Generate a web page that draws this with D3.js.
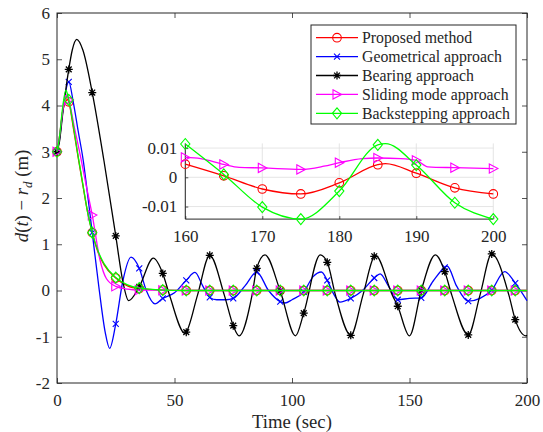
<!DOCTYPE html>
<html><head><meta charset="utf-8">
<script src="https://cdn.jsdelivr.net/npm/d3@7"></script>
<style>
body{margin:0;background:#fff}
svg{display:block}
text{font-family:"Liberation Serif","Times New Roman",serif;fill:#262626}
</style>
</head><body><svg id="c" width="543" height="432"></svg>
<script>
// ---------------- data ----------------
const xTicks = [0, 50, 100, 150, 200];
const yTicks = [-2, -1, 0, 1, 2, 3, 4, 5, 6];
const markerTimes = [0, 5, 15, 25, 35, 45, 55, 65, 75, 85, 95, 105, 115, 125, 135, 145, 155, 165, 175, 185, 195];
const seriesNames = ["Proposed method", "Geometrical approach", "Bearing approach", "Sliding mode approach", "Backstepping approach"];

const proposedT = [0, 1, 2.5, 4.5, 5, 7, 9, 11, 13, 15, 17.5, 20, 25, 30, 35, 45, 55, 65, 75, 85, 95, 105, 115, 125, 135, 145, 155, 165, 175, 185, 195, 200];
const proposedV = [3, 3.3, 3.9, 4.13, 4.08, 3.5, 2.88, 2.28, 1.7, 1.25, 0.82, 0.56, 0.27, 0.1, 0.04, 0.01, 0, 0, 0, 0, 0, 0, 0, 0, 0, 0, 0, 0, 0, 0, 0, 0];

const geometricT = [0, 1, 2.5, 5, 7, 9, 11.2, 13.3, 15, 18, 20.5, 22.4, 25, 28, 31.5, 35, 38, 41.7, 45, 50, 55, 58.7, 62, 65, 68, 72, 75, 80, 85, 90, 95, 97, 100, 105, 109, 112.5, 115, 118, 120.4, 125, 130, 135, 137.5, 141, 145, 150, 155, 160, 165, 166, 170, 175, 180, 185, 190.5, 195, 200];
const geometricV = [3, 3.25, 3.9, 4.51, 4.05, 3.45, 2.8, 1.96, 1.25, 0.0, -0.9, -1.25, -0.72, 0.2, 0.72, 0.48, 0.0, -0.29, -0.17, -0.05, 0.22, 0.39, 0.1, -0.15, -0.2, -0.2, -0.17, 0.1, 0.4, 0.0, -0.24, -0.27, -0.2, -0.03, 0.3, 0.4, 0.22, -0.1, -0.25, -0.17, 0.0, 0.27, 0.36, 0.1, -0.2, -0.17, -0.16, 0.2, 0.5, 0.53, 0.1, -0.23, -0.17, 0.01, 0.41, 0.16, -0.22];

const bearingT = [0, 1, 2.5, 5, 6.5, 8.4, 11, 15, 20, 25, 28, 30.5, 35, 41, 45, 48, 54.5, 55, 59.8, 65, 71.2, 75, 77.5, 83, 85, 88.5, 95, 101.5, 105, 112, 115, 118.5, 125, 130.2, 135, 135.5, 142.7, 145, 150, 155, 161, 165, 168, 175, 180, 185, 192.3, 195, 199.5, 200];
const bearingV = [3, 3.2, 3.85, 4.78, 5.2, 5.43, 5.2, 4.28, 2.8, 1.18, 0.2, -0.22, 0.08, 0.7, 0.37, -0.12, -0.93, -0.9, -0.1, 0.76, -0.1, -0.76, -0.98, -0.1, 0.48, 0.77, -0.01, -0.98, -0.49, 0.77, 0.61, -0.1, -0.97, -0.1, 0.74, 0.76, -0.1, -0.34, -0.98, 0.0, 0.77, 0.41, -0.1, -0.96, -0.1, 0.79, -0.1, -0.63, -0.98, -0.97];

const slidingT = [0, 1, 2.5, 4.1, 5, 7.5, 10, 12.5, 15, 18.3, 21, 25, 30, 35, 45, 55, 65, 75, 85, 95, 105, 115, 125, 135, 145, 155, 165, 175, 185, 195, 200];
const slidingV = [3, 3.3, 3.9, 4.23, 4.12, 3.5, 2.9, 2.25, 1.63, 0.66, 0.26, 0.09, 0.03, 0.01, 0.005, 0, 0, 0, 0, 0, 0, 0, 0, 0, 0, 0, 0, 0, 0, 0, 0];

const backT = [0, 1, 2.5, 3.8, 5, 7, 9, 11, 13, 15, 17.5, 20, 25, 30, 35, 45, 55, 65, 75, 85, 95, 105, 115, 125, 135, 145, 155, 165, 175, 185, 195, 200];
const backV = [3, 3.3, 4.0, 4.33, 4.12, 3.55, 2.9, 2.3, 1.7, 1.25, 0.85, 0.58, 0.28, 0.12, 0.05, 0.01, 0, 0, 0, 0, 0, 0, 0, 0, 0, 0, 0, 0, 0, 0, 0, 0];

// inset (zoom on 160..200 s)
const insetXTicks = [160, 170, 180, 190, 200];
const insetYTicks = [-0.01, 0, 0.01];
const insetProposedT = [160, 165, 170, 175, 180, 185, 186, 190, 195, 200];
const insetProposedV = [0.0045, 0.0005, -0.004, -0.0057, -0.0019, 0.0043, 0.0047, 0.0014, -0.0036, -0.0057];
const insetSlidingT = [160, 162, 165, 167, 170, 175, 178, 180, 183, 185, 188, 190, 191.5, 195, 200];
const insetSlidingV = [0.0068, 0.0064, 0.0044, 0.0034, 0.0032, 0.0027, 0.0038, 0.005, 0.0064, 0.0066, 0.0064, 0.0058, 0.0036, 0.0033, 0.003];
const insetBackT = [160, 165, 170, 175, 180, 185, 186, 190, 195, 200];
const insetBackV = [0.0114, 0.001, -0.0102, -0.0143, -0.0047, 0.0111, 0.0115, 0.0042, -0.0087, -0.0143];

// ---------------- drawing ----------------
const colors = ["#ff0000", "#0000ff", "#000000", "#ff00ff", "#00ff00"];
const symbols = ["circle", "x", "star", "tri", "diamond"];
const axisColor = "#262626";
const tickFont = 17, legendFont = 15.8, labelFont = 18.7;
const svg = d3.select("#c");

const M = {l: 57, r: 527, t: 13, b: 383};
const x = d3.scaleLinear().domain([0, 200]).range([M.l, M.r]);
const y = d3.scaleLinear().domain([-2, 6]).range([M.b, M.t]);

function styleAxis(g, fs) {
  g.select(".domain").remove();
  g.selectAll(".tick line").attr("stroke", axisColor).attr("stroke-width", 0.8);
  g.selectAll(".tick text").attr("fill", axisColor).style("font-size", fs + "px")
    .style("font-family", '"Liberation Serif","Times New Roman",serif');
}
const fmt = d => String(d);

styleAxis(svg.append("g").attr("transform", `translate(0,${M.b})`)
  .call(d3.axisBottom(x).tickValues(xTicks).tickSize(-5).tickPadding(10.5).tickFormat(fmt)), tickFont);
styleAxis(svg.append("g").attr("transform", `translate(0,${M.t})`)
  .call(d3.axisTop(x).tickValues(xTicks).tickSize(-5).tickFormat("")), tickFont);
styleAxis(svg.append("g").attr("transform", `translate(${M.l},0)`)
  .call(d3.axisLeft(y).tickValues(yTicks).tickSize(-5).tickPadding(7).tickFormat(fmt)), tickFont);
styleAxis(svg.append("g").attr("transform", `translate(${M.r},0)`)
  .call(d3.axisRight(y).tickValues(yTicks).tickSize(-5).tickFormat("")), tickFont);

svg.append("rect").attr("x", M.l).attr("y", M.t).attr("width", M.r - M.l).attr("height", M.b - M.t)
  .attr("fill", "none").attr("stroke", axisColor).attr("stroke-width", 1);

function marker(g, type, cx, cy, color) {
  let el;
  if (type === "circle") {
    el = g.append("circle").attr("cx", cx).attr("cy", cy).attr("r", 4.3);
  } else if (type === "x") {
    const h = 3;
    el = g.append("path").attr("d", `M${cx-h},${cy-h}L${cx+h},${cy+h}M${cx-h},${cy+h}L${cx+h},${cy-h}`);
  } else if (type === "star") {
    const h = 4, d = 2.9;
    el = g.append("path").attr("d",
      `M${cx},${cy-h}L${cx},${cy+h}M${cx-h},${cy}L${cx+h},${cy}M${cx-d},${cy-d}L${cx+d},${cy+d}M${cx-d},${cy+d}L${cx+d},${cy-d}`);
  } else if (type === "tri") {
    el = g.append("path").attr("d", `M${cx-4},${cy-4.6}L${cx+4.6},${cy}L${cx-4},${cy+4.6}Z`);
  } else {
    el = g.append("path").attr("d", `M${cx},${cy-5.5}L${cx+4.6},${cy}L${cx},${cy+5.5}L${cx-4.6},${cy}Z`);
  }
  el.attr("stroke", color).attr("fill", "none").attr("stroke-width", type === "star" ? 1.3 : 1.1);
  return el;
}

const mainSeries = [
  [proposedT, proposedV], [geometricT, geometricV], [bearingT, bearingV],
  [slidingT, slidingV], [backT, backV]
];
const lineMain = d3.line().x(d => x(d[0])).y(d => y(d[1])).curve(d3.curveMonotoneX);
const gm = svg.append("g");
mainSeries.forEach(([T, V], i) => {
  const pts = T.map((t, k) => [t, V[k]]);
  gm.append("path").datum(pts).attr("d", lineMain).attr("fill", "none")
    .attr("stroke", colors[i]).attr("stroke-width", 1.3);
  const mg = gm.append("g");
  pts.filter(p => markerTimes.includes(p[0])).forEach(p => marker(mg, symbols[i], x(p[0]), y(p[1]), colors[i]));
});

// ---------------- inset ----------------
const I = {l: 185.3, r: 493.3, t: 143.4, b: 219.1};
const xi = d3.scaleLinear().domain([160, 200]).range([I.l, I.r]);
const yi = d3.scaleLinear().domain([-0.0143, 0.0116]).range([I.b, I.t]);
const gi = svg.append("g");
gi.append("rect").attr("x", I.l).attr("y", I.t).attr("width", I.r - I.l).attr("height", I.b - I.t).attr("fill", "#fff");
insetXTicks.forEach(t => gi.append("line").attr("x1", xi(t)).attr("x2", xi(t)).attr("y1", I.t).attr("y2", I.b)
  .attr("stroke", "#dedede").attr("stroke-width", 0.8));
insetYTicks.forEach(v => gi.append("line").attr("x1", I.l).attr("x2", I.r).attr("y1", yi(v)).attr("y2", yi(v))
  .attr("stroke", "#dedede").attr("stroke-width", 0.8));
const gix = gi.append("g").attr("transform", `translate(0,${I.b})`)
  .call(d3.axisBottom(xi).tickValues(insetXTicks).tickSize(-3).tickPadding(11).tickFormat(fmt));
styleAxis(gix, tickFont);
const giy = gi.append("g").attr("transform", `translate(${I.l},0)`)
  .call(d3.axisLeft(yi).tickValues(insetYTicks).tickSize(-3).tickPadding(8).tickFormat(fmt));
styleAxis(giy, tickFont);
gi.append("line").attr("x1", I.l).attr("x2", I.r).attr("y1", I.b).attr("y2", I.b).attr("stroke", axisColor).attr("stroke-width", 1);
gi.append("line").attr("x1", I.l).attr("x2", I.l).attr("y1", I.t).attr("y2", I.b).attr("stroke", axisColor).attr("stroke-width", 1);

const insetSeries = [[insetProposedT, insetProposedV, 0], [insetSlidingT, insetSlidingV, 3], [insetBackT, insetBackV, 4]];
const lineInset = d3.line().x(d => xi(d[0])).y(d => yi(d[1])).curve(d3.curveMonotoneX);
insetSeries.forEach(([T, V, i]) => {
  const pts = T.map((t, k) => [t, V[k]]);
  gi.append("path").datum(pts).attr("d", lineInset).attr("fill", "none")
    .attr("stroke", colors[i]).attr("stroke-width", 1.3);
  const mg = gi.append("g");
  pts.filter(p => p[0] % 5 === 0).forEach(p => marker(mg, symbols[i], xi(p[0]), yi(p[1]), colors[i]));
});

// ---------------- legend ----------------
const L = {x: 311, y: 25, w: 205, h: 99};
const gl = svg.append("g");
gl.append("rect").attr("x", L.x).attr("y", L.y).attr("width", L.w).attr("height", L.h)
  .attr("fill", "#fff").attr("stroke", axisColor).attr("stroke-width", 1);
seriesNames.forEach((name, i) => {
  const ry = 37.7 + i * 18.9;
  gl.append("line").attr("x1", 316).attr("x2", 358).attr("y1", ry).attr("y2", ry)
    .attr("stroke", colors[i]).attr("stroke-width", 1.3);
  marker(gl, symbols[i], 337, ry, colors[i]);
  gl.append("text").attr("x", 362).attr("y", ry + 5.3).style("font-size", legendFont + "px").text(name);
});

// ---------------- labels ----------------
svg.append("text").attr("x", (M.l + M.r) / 2).attr("y", 428).attr("text-anchor", "middle")
  .style("font-size", labelFont + "px").text("Time (sec)");
const yl = svg.append("text").attr("transform", `translate(28,196) rotate(-90)`)
  .attr("text-anchor", "middle").style("font-size", labelFont + "px");
yl.append("tspan").style("font-style", "italic").text("d");
yl.append("tspan").text("(");
yl.append("tspan").style("font-style", "italic").text("t");
yl.append("tspan").text(") \u2212 ");
yl.append("tspan").style("font-style", "italic").text("r");
yl.append("tspan").style("font-style", "italic").style("font-size", "13px").attr("dy", 3.5).text("d");
yl.append("tspan").attr("dy", -3.5).text(" (m)");
</script></body></html>
